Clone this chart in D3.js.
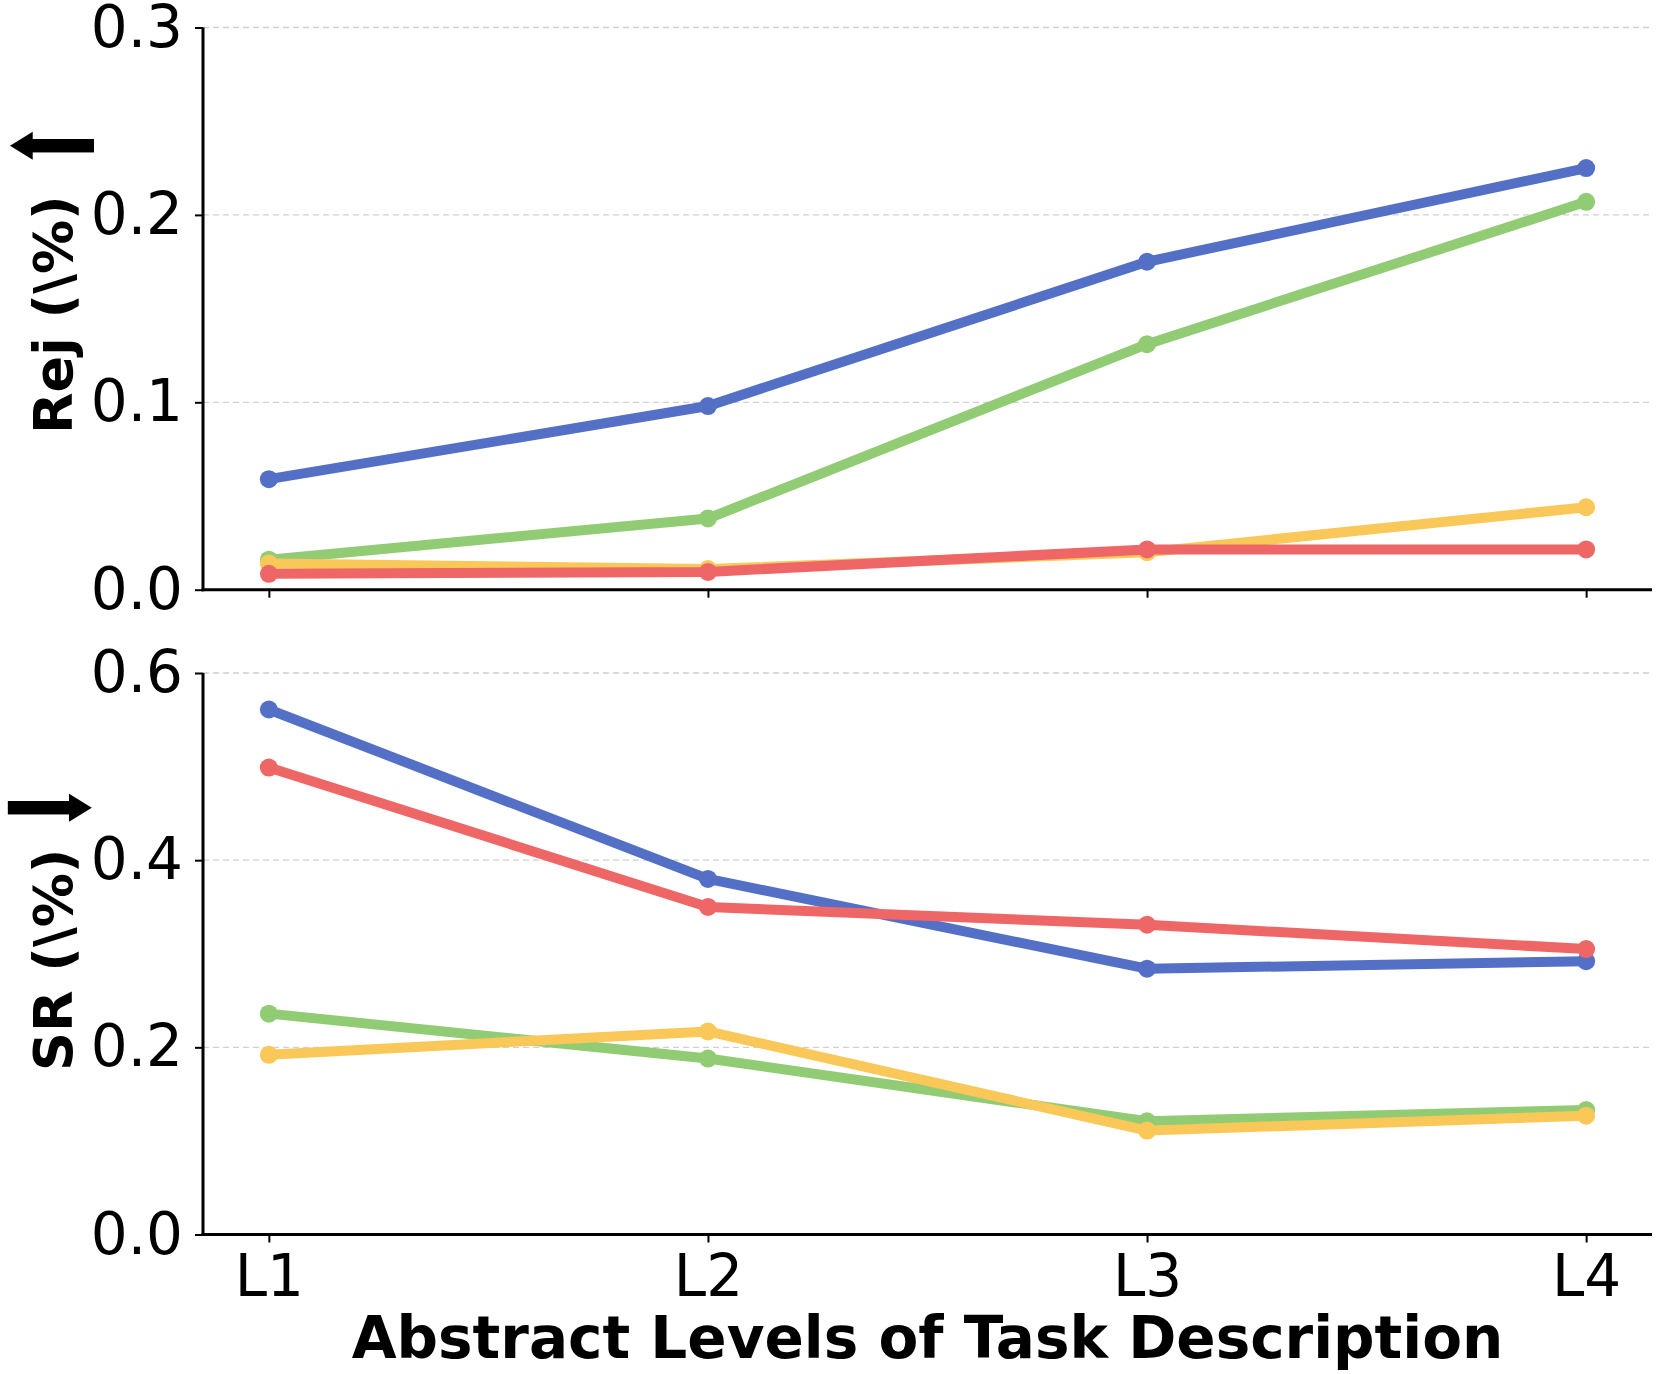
<!DOCTYPE html>
<html>
<head>
<meta charset="utf-8">
<script src="https://cdn.jsdelivr.net/npm/d3@7"></script>
<style>
  body { margin: 0; background: #fff; }
  text { font-family: "DejaVu Sans", sans-serif; }
</style>
</head>
<body>
<div id="canvas"></div>
<script>
const width = 1660;
const height = 1374;

// data
const levels = ['L1', 'L2', 'L3', 'L4'];
const colors = ['#5470c6', '#91cc75', '#fac858', '#ee6666'];

const rejBlue = [0.059, 0.098, 0.175, 0.225];
const rejGreen = [0.016, 0.038, 0.131, 0.207];
const rejYellow = [0.014, 0.011, 0.020, 0.044];
const rejRed = [0.0085, 0.0095, 0.0215, 0.0215];

const srBlue = [0.561, 0.380, 0.284, 0.292];
const srGreen = [0.236, 0.188, 0.121, 0.133];
const srYellow = [0.192, 0.217, 0.111, 0.127];
const srRed = [0.499, 0.350, 0.331, 0.305];

const rejTicks = [0.0, 0.1, 0.2, 0.3];
const srTicks = [0.0, 0.2, 0.4, 0.6];

const svg = d3.select('#canvas').append('svg')
  .attr('width', width)
  .attr('height', height)

const left = 203, right = 1652;

const xScale = d3.scaleLinear().domain([-0.15, 3.15]).range([left, right]);

// ink box of a glyph, used to stretch the arrow after the y label
const ctx = document.createElement('canvas').getContext('2d');
ctx.font = '100px "DejaVu Sans"';
function inkBox(ch) {
  const m = ctx.measureText(ch);
  return { l: m.actualBoundingBoxLeft, r: m.actualBoundingBoxRight,
           a: m.actualBoundingBoxAscent, d: m.actualBoundingBoxDescent };
}

function panel(top, bottom, yMax, ticks, series, showLabels, label, labelY, arrow, arrowY) {
  const yScale = d3.scaleLinear().domain([0, yMax]).range([bottom, top]);
  const g = svg.append('g');

  // dashed grid
  g.selectAll('.grid').data(ticks.filter(t => t > 0)).enter().append('line')
    .attr('x1', left).attr('x2', right)
    .attr('y1', d => yScale(d)).attr('y2', d => yScale(d))
    .attr('stroke', '#d0d0d0').attr('stroke-width', 1.3)
    .attr('stroke-dasharray', '6,4');

  const yAxis = d3.axisLeft(yScale).tickValues(ticks).tickFormat(d3.format('.1f'))
    .tickSize(8).tickPadding(12);
  const ya = g.append('g').attr('transform', `translate(${left},0)`).call(yAxis);
  ya.select('.domain').remove();
  ya.selectAll('.tick line').attr('stroke', '#000').attr('stroke-width', 2);
  ya.selectAll('.tick text').attr('font-size', 58).attr('fill', '#000')
    .attr('font-family', 'DejaVu Sans');

  const xAxis = d3.axisBottom(xScale).tickValues([0, 1, 2, 3])
    .tickFormat(i => showLabels ? levels[i] : '').tickSize(8).tickPadding(12);
  const xa = g.append('g').attr('transform', `translate(0,${bottom})`).call(xAxis);
  xa.select('.domain').remove();
  xa.selectAll('.tick line').attr('stroke', '#000').attr('stroke-width', 2);
  xa.selectAll('.tick text').attr('font-size', 58).attr('fill', '#000')
    .attr('font-family', 'DejaVu Sans');

  const line = d3.line()
    .x((d, i) => xScale(i))
    .y(d => yScale(d))

  series.forEach((vals, k) => {
    g.append('path').attr('d', line(vals))
      .attr('fill', 'none').attr('stroke', colors[k])
      .attr('stroke-width', 10).attr('stroke-linejoin', 'round');
    g.selectAll('.pt' + k).data(vals).enter().append('circle')
      .attr('cx', (d, i) => xScale(i)).attr('cy', d => yScale(d))
      .attr('r', 9).attr('fill', colors[k]);
  });

  // spines
  g.append('line').attr('x1', left).attr('x2', left).attr('y1', top).attr('y2', bottom + 1.5)
    .attr('stroke', '#000').attr('stroke-width', 3);
  g.append('line').attr('x1', left - 1.5).attr('x2', right).attr('y1', bottom).attr('y2', bottom)
    .attr('stroke', '#000').attr('stroke-width', 3);

  svg.append('text')
    .attr('transform', `translate(72,${labelY}) rotate(-90)`)
    .attr('font-size', 54).attr('font-weight', 'bold')
    .attr('text-anchor', 'start')
    .text(label);

  // the big arrow after the label, stretched then thinned with a white outline
  const b = inkBox(arrow);
  const w = b.l + b.r, h = b.a + b.d;
  svg.append('text')
    .attr('transform', `translate(51,${arrowY}) rotate(-90) scale(${38 / w},${92 / h}) translate(${-(b.r - b.l) / 2},${-(b.d - b.a) / 2})`)
    .attr('font-size', 100).attr('font-family', 'DejaVu Sans')
    .attr('stroke', '#fff').attr('stroke-width', 5)
    .attr('vector-effect', 'non-scaling-stroke')
    .attr('paint-order', 'fill')
    .text(arrow);
}

panel(27.5, 589.7, 0.3, rejTicks, [rejBlue, rejGreen, rejYellow, rejRed], false, 'Rej (\\%)', 434, '\u2B06', 146);
panel(673, 1234.5, 0.6, srTicks, [srBlue, srGreen, srYellow, srRed], true, 'SR (\\%)', 1071, '\u2B07', 808);

svg.append('text')
  .attr('x', (left + right) / 2).attr('y', 1358)
  .attr('text-anchor', 'middle')
  .attr('font-size', 58).attr('font-weight', 'bold')
  .text('Abstract Levels of Task Description');
</script>
</body>
</html>
